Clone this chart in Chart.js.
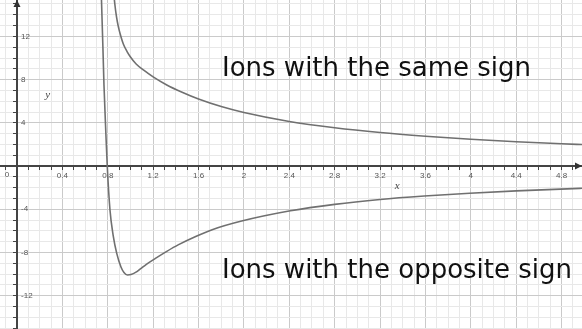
<!DOCTYPE html>
<html>
<head>
<meta charset="utf-8">
<script src="https://cdn.jsdelivr.net/npm/chart.js@4.4.0/dist/chart.umd.min.js"></script>
<style>
  html, body { margin: 0; padding: 0; background: #fff; }
  #wrap { width: 582px; height: 329px; }
</style>
</head>
<body>
<div id="wrap"><canvas id="energy-chart"></canvas></div>
<script>
// curve readings (x = distance, y = energy)
const sameX = [0.85, 0.862, 0.877, 0.893, 0.91, 0.937, 0.97, 1.0, 1.05, 1.12, 1.2, 1.32, 1.45, 1.6, 1.8, 2.0, 2.4, 2.8, 3.2, 3.6, 4.0, 4.4, 4.8, 5.0];
const sameY = [16.3, 15.0, 13.8, 12.9, 12.2, 11.3, 10.6, 10.1, 9.45, 8.85, 8.25, 7.5, 6.85, 6.2, 5.5, 4.95, 4.12, 3.54, 3.1, 2.76, 2.48, 2.25, 2.06, 1.98];

const oppX = [0.738, 0.7445, 0.7665, 0.782, 0.7956, 0.8194, 0.8485, 0.8784, 0.9163, 0.9427, 0.9736, 1.0044, 1.0485, 1.09, 1.14, 1.22, 1.32, 1.42, 1.58, 1.72, 1.98, 2.41, 2.8, 3.2, 3.59, 3.99, 4.4, 4.96, 5.0];
const oppY = [16.3, 15.37, 7.5, 3.33, -0.05, -4.07, -6.48, -8.06, -9.35, -9.86, -10.09, -10.05, -9.83, -9.5, -9.1, -8.55, -7.9, -7.3, -6.5, -5.9, -5.1, -4.15, -3.55, -3.1, -2.78, -2.52, -2.3, -2.07, -2.06];

const labelSame = "Ions with the same sign";
const labelOpp = "Ions with the opposite sign";

const xMajor = 0.4;
const yMajor = 4;

function isMultiple(v, step) {
    const r = v / step;
    return Math.abs(r - Math.round(r)) < 1e-6;
}

function toPoints(xs, ys) {
    return xs.map((x, i) => ({ x: x, y: ys[i] }));
}

const extras = {
    id: 'extras',
    afterDraw(chart) {
        const ctx = chart.ctx;
        const xs = chart.scales.x, ys = chart.scales.y;
        const ox = xs.getPixelForValue(0), oy = ys.getPixelForValue(0);
        const area = chart.chartArea;
        ctx.save();
        // arrow heads
        ctx.fillStyle = '#333';
        ctx.beginPath();
        ctx.moveTo(area.right, oy);
        ctx.lineTo(area.right - 7, oy - 3.5);
        ctx.lineTo(area.right - 7, oy + 3.5);
        ctx.fill();
        ctx.beginPath();
        ctx.moveTo(ox, area.top);
        ctx.lineTo(ox - 3.5, area.top + 7);
        ctx.lineTo(ox + 3.5, area.top + 7);
        ctx.fill();
        // y tick labels, to the right of the axis
        ctx.fillStyle = '#555';
        ctx.font = '8px "Liberation Sans"';
        ctx.textAlign = 'left';
        ctx.textBaseline = 'middle';
        ys.ticks.forEach((t) => {
            if (isMultiple(t.value, yMajor) && Math.abs(t.value) > 1e-6) {
                ctx.fillText(String(Math.round(t.value)), ox + 4, ys.getPixelForValue(t.value));
            }
        });
        // origin label
        ctx.textAlign = 'center';
        ctx.fillText('0', ox - 10, oy + 9);
        // axis names
        ctx.font = 'italic 11px "Liberation Serif"';
        ctx.fillStyle = '#444';
        ctx.fillText('x', xs.getPixelForValue(3.35), oy + 20);
        ctx.fillText('y', xs.getPixelForValue(0.27), ys.getPixelForValue(6.6));
        // annotations
        ctx.fillStyle = '#111';
        ctx.font = '26px "DejaVu Sans"';
        ctx.textAlign = 'left';
        ctx.textBaseline = 'alphabetic';
        ctx.fillText(labelSame, 222, 76);
        ctx.fillText(labelOpp, 222, 278);
        ctx.restore();
    }
};

function zeroFit(scale) {
    if (scale.isHorizontal()) scale.height = 0; else scale.width = 0;
    scale.paddingLeft = scale.paddingRight = scale.paddingTop = scale.paddingBottom = 0;
}

new Chart(document.getElementById('energy-chart'), {
    type: 'line',
    data: {
        datasets: [{
            label: labelSame,
            data: toPoints(sameX, sameY),
            borderColor: '#707070',
            borderWidth: 1.6,
            pointRadius: 0,
            cubicInterpolationMode: 'monotone',
            fill: false
        }, {
            label: labelOpp,
            data: toPoints(oppX, oppY),
            borderColor: '#707070',
            borderWidth: 1.6,
            pointRadius: 0,
            cubicInterpolationMode: 'monotone',
            fill: false
        }]
    },
    options: {
        responsive: true,
        maintainAspectRatio: false,
        animation: false,
        layout: { padding: 0 },
        plugins: {
            legend: { display: false },
            tooltip: { enabled: false }
        },
        scales: {
            x: {
                type: 'linear',
                position: { y: 0 },
                min: -0.15,
                max: 4.98,
                afterFit: zeroFit,
                grid: {
                    color: (c) => c.tick && isMultiple(c.tick.value, xMajor) ? '#cacaca' : '#e8e8e8',
                    lineWidth: 1,
                    tickLength: 3,
                    tickColor: '#444'
                },
                border: { display: true, color: '#444', width: 2 },
                ticks: {
                    stepSize: 0.1,
                    includeBounds: false,
                    autoSkip: false,
                    maxRotation: 0,
                    padding: 2,
                    color: '#555',
                    font: { size: 8, family: 'Liberation Sans' },
                    callback: (v) => (isMultiple(v, xMajor) && Math.abs(v) > 1e-6) ? String(Math.round(v * 10) / 10) : ''
                }
            },
            y: {
                type: 'linear',
                position: { x: 0 },
                min: -15.09,
                max: 15.37,
                afterFit: zeroFit,
                grid: {
                    color: (c) => c.tick && isMultiple(c.tick.value, yMajor) ? '#cacaca' : '#e8e8e8',
                    lineWidth: 1,
                    tickLength: 3,
                    tickColor: '#444'
                },
                border: { display: true, color: '#444', width: 2 },
                ticks: {
                    display: false,
                    stepSize: 1,
                    includeBounds: false,
                    autoSkip: false
                }
            }
        }
    },
    plugins: [extras]
});
</script>
</body>
</html>
